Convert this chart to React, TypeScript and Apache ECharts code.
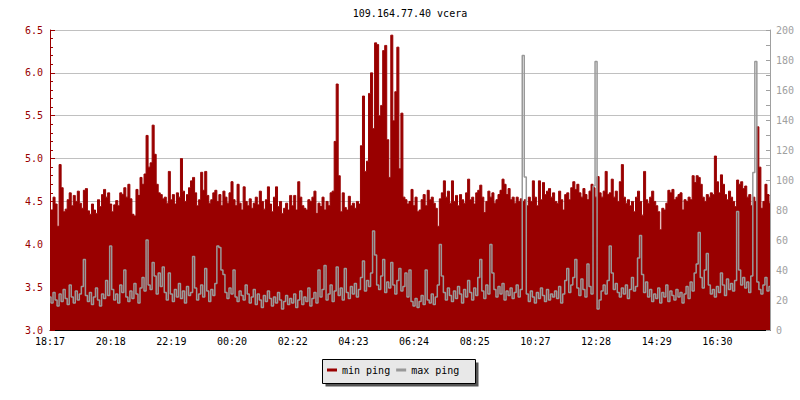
import React, { useEffect, useRef } from 'react';
import * as echarts from 'echarts';

const titleText = '109.164.77.40 vcera';
const tickLabels = ['18:17', '20:18', '22:19', '00:20', '02:22', '04:23', '06:24', '08:25', '10:27', '12:28', '14:29', '16:30'];
const SAMPLES_PER_TICK = 30;
const seriesNames = ['min ping', 'max ping'];

// min ping (ms, left axis)
const minPing = [
  4.36, 4.40, 4.55, 4.47, 4.21, 4.93, 4.66, 4.38, 4.41, 4.52,
  4.60, 4.45, 4.57, 4.50, 4.62, 4.48, 4.42, 4.63, 4.65, 4.39,
  4.35, 4.47, 4.40, 4.36, 4.52, 4.44, 4.58, 4.64, 4.55, 4.60,
  4.47, 4.38, 4.46, 4.51, 4.45, 4.60, 4.58, 4.66, 4.55, 4.70,
  4.53, 4.35, 4.33, 4.64, 4.57, 4.78, 4.70, 4.82, 5.27, 4.90,
  4.95, 5.39, 5.05, 4.70, 4.60, 4.58, 4.53, 4.55, 4.48, 4.85,
  4.52, 4.58, 4.47, 4.60, 4.55, 5.00, 4.62, 4.50, 4.58, 4.66,
  4.74, 4.78, 4.60, 4.45, 4.52, 4.84, 4.63, 4.85, 4.57, 4.48,
  4.52, 4.60, 4.63, 4.50, 4.58, 4.45, 4.62, 4.55, 4.48, 4.60,
  4.73, 4.52, 4.45, 4.70, 4.48, 4.40, 4.67, 4.50, 4.45, 4.53,
  4.42, 4.48, 4.55, 4.46, 4.62, 4.50, 4.41, 4.52, 4.67, 4.47,
  4.38, 4.55, 4.67, 4.44, 4.50, 4.36, 4.42, 4.48, 4.40, 4.57,
  4.45, 4.57, 4.40, 4.73, 4.55, 4.45, 4.42, 4.40, 4.52, 4.50,
  4.55, 4.62, 4.36, 4.48, 4.44, 4.55, 4.40, 4.50, 4.45, 4.60,
  4.62, 5.20, 5.87, 4.80, 4.38, 4.60, 4.43, 4.40, 4.56, 4.45,
  4.48, 4.42, 4.50, 4.47, 5.15, 5.73, 4.85, 4.97, 5.76, 6.00,
  5.35, 6.35, 6.33, 5.50, 5.62, 6.26, 6.32, 5.22, 4.78, 6.44,
  5.44, 5.78, 6.30, 4.88, 5.53, 4.55, 4.52, 4.47, 4.50, 4.64,
  4.45, 4.55, 4.38, 4.40, 4.52, 4.58, 4.45, 4.63, 4.52, 4.55,
  4.48, 4.42, 4.21, 4.53, 4.60, 4.74, 4.55, 4.62, 4.48, 4.74,
  4.50, 4.57, 4.45, 4.58, 4.52, 4.48, 4.60, 4.76, 4.52, 4.55,
  4.47, 4.60, 4.63, 4.69, 4.55, 4.37, 4.50, 4.62, 4.55, 4.60,
  4.48, 4.52, 4.58, 4.63, 4.76, 4.70, 4.58, 4.65, 4.52, 4.55,
  4.48, 4.55, 4.50, 4.53, 4.50, 4.52, 4.45, 4.55, 4.50, 4.74,
  4.55, 4.45, 4.74, 4.52, 4.72, 4.58, 4.62, 4.65, 4.55, 4.60,
  4.50, 4.48, 4.62, 4.52, 4.40, 4.58, 4.60, 4.52, 4.66, 4.73,
  4.64, 4.70, 4.60, 4.55, 4.65, 4.58, 4.52, 4.62, 4.70, 4.66,
  4.55, 4.79, 4.60, 4.55, 4.62, 4.85, 4.58, 4.60, 4.76, 4.55,
  4.62, 4.50, 4.73, 4.93, 4.55, 4.48, 4.52, 4.45, 4.50, 4.38,
  4.55, 4.62, 4.50, 4.34, 4.85, 4.52, 4.48, 4.55, 4.62, 4.50,
  4.45, 4.38, 4.17, 4.42, 4.40, 4.48, 4.63, 4.60, 4.64, 4.52,
  4.55, 4.58, 4.60, 4.40, 4.52, 4.50, 4.55, 4.52, 4.80, 4.72,
  4.80, 4.78, 4.70, 4.55, 4.50, 4.58, 4.55, 4.60, 4.58, 5.03,
  4.73, 4.60, 4.81, 4.70, 4.58, 4.52, 4.62, 4.55, 4.50, 4.44,
  4.75, 4.70, 4.73, 4.65, 4.68, 4.55, 4.58, 4.45, 4.55, 4.50,
  5.37, 4.90, 4.42, 4.50, 4.70, 4.58, 4.48,
];

// max ping (ms, right axis)
const maxPing = [
  22, 18, 25, 20, 16, 24, 19, 27, 21, 17,
  30, 22, 18, 26, 20, 24, 29, 47, 23, 19,
  25, 17, 22, 28, 20, 16, 24, 21, 33, 23,
  56, 27, 20, 24, 18, 30, 25, 40, 22, 19,
  26, 21, 31, 24, 18, 28, 35, 26, 60, 30,
  27, 45, 36, 24, 38, 29, 42, 25, 20, 38,
  24, 19, 27, 22, 31, 21, 26, 18, 29, 23,
  25, 49, 28, 20, 24, 30, 22, 41, 26, 19,
  27, 23, 31, 56, 55, 40, 37, 25, 21, 28,
  24, 40, 22, 19, 26, 23, 20, 30, 24, 18,
  22, 27, 17, 24, 20, 15, 23, 19, 26, 21,
  16, 22, 18, 25, 20, 14, 19, 23, 17, 21,
  18, 24, 15, 20, 26, 17, 22, 19, 28, 16,
  21, 25, 18, 40, 22, 27, 43, 20, 24, 30,
  19, 26, 42, 23, 28, 20, 41, 25, 21, 29,
  24, 31, 22, 27, 35, 46, 26, 33, 29, 38,
  66, 50, 30, 27, 36, 47, 25, 32, 28, 45,
  30, 24, 33, 41, 26, 29, 38, 22, 40, 19,
  16, 21, 15, 19, 23, 17, 40, 20, 18, 24,
  17, 22, 30, 57, 36, 25, 20, 28, 23, 19,
  26, 21, 29, 24, 18, 27, 22, 33, 25, 20,
  28, 23, 35, 47, 26, 21, 30, 24, 57, 38,
  27, 22, 29, 24, 31, 20, 26, 23, 28, 21,
  25, 30, 22, 27, 183, 102, 24, 19, 26, 22,
  18, 25, 21, 28, 23, 19, 27, 20, 24, 22,
  26, 21, 29, 18, 24, 33, 41, 25, 30, 35,
  47, 28, 23, 34, 27, 22, 44, 29, 24, 96,
  179, 14, 20, 26, 30, 24, 33, 56, 38, 27,
  31, 25, 22, 28, 24, 30, 21, 27, 35, 26,
  29, 48, 63, 37, 25, 32, 22, 27, 19, 24,
  21, 28, 18, 25, 22, 30, 19, 26, 23, 20,
  27, 22, 25, 18, 24, 29, 21, 32, 26, 38,
  44, 65, 35, 28, 40, 51, 30, 24, 27, 22,
  29, 25, 38, 30, 23, 34, 27, 31, 26, 33,
  79, 40, 30, 35, 28, 32, 25, 36, 105, 179,
  32, 27, 24, 30, 35, 26, 29,
];

const RED = '#990000';
const GRAY = '#999999';
const FONT = '"DejaVu Sans Mono", monospace';

export default function App() {
  const ref = useRef<HTMLDivElement>(null);

  useEffect(() => {
    if (!ref.current) return;
    const chart = echarts.init(ref.current, null, { renderer: 'svg' });
    const categories = minPing.map((_, i) => String(i));
    const showTick = (i: number) =>
      i % SAMPLES_PER_TICK === 0 && i / SAMPLES_PER_TICK < tickLabels.length;

    chart.setOption({
      animation: false,
      backgroundColor: '#ffffff',
      textStyle: { fontFamily: FONT },
      grid: { left: 50, right: 30, top: 30, bottom: 70, containLabel: false },
      xAxis: {
        type: 'category',
        data: categories,
        boundaryGap: false,
        axisLine: { lineStyle: { color: '#000', width: 1 } },
        axisTick: {
          inside: true,
          length: 5,
          interval: (i: number) => showTick(i),
          lineStyle: { color: '#000' },
        },
        axisLabel: {
          interval: (i: number) => showTick(i),
          formatter: (_v: string, i: number) => tickLabels[i / SAMPLES_PER_TICK] ?? '',
          color: '#000',
          fontSize: 10,
          fontFamily: FONT,
          margin: 6,
        },
        splitLine: { show: false },
      },
      yAxis: [
        {
          type: 'value',
          position: 'left',
          min: 3,
          max: 6.5,
          interval: 0.5,
          axisLine: { show: true, lineStyle: { color: RED } },
          axisTick: { show: true, inside: true, length: 5, lineStyle: { color: RED } },
          minorTick: { show: true, splitNumber: 5, length: 3, lineStyle: { color: RED } },
          axisLabel: {
            color: RED,
            fontSize: 10,
            fontFamily: FONT,
            margin: 7,
            formatter: (v: number) => v.toFixed(1),
          },
          splitLine: { show: true, lineStyle: { color: '#c0c0c0', width: 1 } },
        },
        {
          type: 'value',
          position: 'right',
          min: 0,
          max: 200,
          interval: 20,
          axisLine: { show: true, lineStyle: { color: '#a0a0a0' } },
          axisTick: { show: true, inside: true, length: 4, lineStyle: { color: '#a0a0a0' } },
          minorTick: { show: true, splitNumber: 2, length: 4, lineStyle: { color: '#a0a0a0' } },
          axisLabel: { color: '#a0a0a0', fontSize: 10, fontFamily: FONT, margin: 6 },
          splitLine: { show: false },
        },
      ],
      legend: {
        data: [
          { name: seriesNames[0], icon: 'rect' },
          { name: seriesNames[1], icon: 'rect' },
        ],
        left: 327,
        top: 365,
        padding: 0,
        itemGap: 6,
        itemWidth: 10,
        itemHeight: 3,
        textStyle: { color: '#000', fontSize: 10, fontFamily: FONT },
      },
      graphic: [
        {
          type: 'text',
          x: 410,
          y: 13,
          style: {
            text: titleText,
            fill: '#000',
            font: '10px "DejaVu Sans Mono", monospace',
            textAlign: 'center',
            verticalAlign: 'middle',
          },
        },
        {
          type: 'rect',
          z: 0,
          shape: { x: 325.5, y: 362.5, width: 153, height: 24 },
          style: { fill: '#555555' },
        },
        {
          type: 'rect',
          z: 0,
          shape: { x: 322.5, y: 359.5, width: 153, height: 24 },
          style: { fill: '#e8e8e8', stroke: '#000', lineWidth: 1 },
        },
      ],
      series: [
        {
          name: seriesNames[0],
          type: 'line',
          yAxisIndex: 0,
          data: minPing,
          step: 'middle',
          symbol: 'none',
          lineStyle: { color: RED, width: 1 },
          itemStyle: { color: RED },
          areaStyle: { color: RED, opacity: 1, origin: 'start' },
          z: 2,
        },
        {
          name: seriesNames[1],
          type: 'line',
          yAxisIndex: 1,
          data: maxPing,
          step: 'middle',
          symbol: 'none',
          lineStyle: { color: GRAY, width: 1.5 },
          itemStyle: { color: GRAY },
          z: 3,
        },
      ],
    });

    return () => chart.dispose();
  }, []);

  return (
    <div
      ref={ref}
      style={{ position: 'fixed', left: 0, top: 0, width: 800, height: 400 }}
    />
  );
}
